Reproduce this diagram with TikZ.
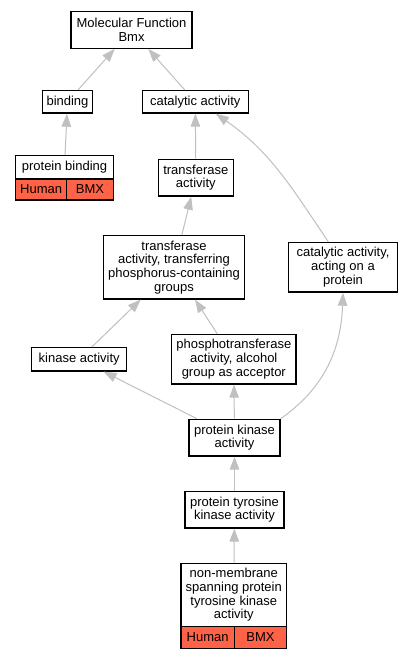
\documentclass[tikz,border=0pt]{standalone}
\usepackage{fontspec}
\setmainfont{Liberation Sans}
\usetikzlibrary{arrows.meta,positioning}
\definecolor{edgegray}{RGB}{192,192,192}
\definecolor{tomato}{RGB}{255,99,71}
\tikzstyle{term} = [rectangle, draw=black, line width=1.3pt, fill=white,
    align=center, inner sep=0pt, font=\fontsize{13}{13.6}\selectfont]
\tikzstyle{cell} = [term, fill=tomato]
\tikzstyle{isa} = [draw=edgegray, line width=1pt,
    -{Triangle[length=13pt,width=9.5pt]}]

\begin{document}
\begin{tikzpicture}[x=1pt, y=-1pt]
  \useasboundingbox [fill=white] (0,0) rectangle (412,659);
  % Place nodes
  \node [term, minimum width=121pt, minimum height=36.5pt] (molfunc)
  at (131.5,30) {Molecular Function\\Bmx};
  \node [term, minimum width=50.5pt, minimum height=22.5pt] (binding)
  at (67.5,101.8) {binding};
  \node [term, minimum width=106pt, minimum height=22.5pt] (catalytic)
  at (195.3,101.8) {catalytic activity};
  \node [term, minimum width=97.6pt, minimum height=23.3pt] (protbind)
  at (64.5,167.3) {protein binding};
  \node [cell, minimum width=51pt, minimum height=21pt] (protbindH)
  at (41.2,189.5) {Human};
  \node [cell, minimum width=46.6pt, minimum height=21pt] (protbindB)
  at (90,189.5) {BMX};
  \node [term, minimum width=75pt, minimum height=36.7pt] (transf)
  at (195.8,177.7) {transferase\\activity};
  \node [term, minimum width=140.6pt, minimum height=63.3pt] (transfphos)
  at (174,267.3) {transferase\\activity, transferring\\phosphorus-containing\\groups};
  \node [term, minimum width=108.6pt, minimum height=49.7pt] (catprot)
  at (343,267.2) {catalytic activity,\\acting on a\\protein};
  \node [term, minimum width=95pt, minimum height=23.3pt] (kinase)
  at (79.2,359.3) {kinase activity};
  \node [term, minimum width=124.3pt, minimum height=49.7pt] (phosalc)
  at (233.8,359.2) {phosphotransferase\\activity, alcohol\\group as acceptor};
  \node [term, minimum width=91pt, minimum height=36.7pt] (protkin)
  at (234.5,437.7) {protein kinase\\activity};
  \node [term, minimum width=99pt, minimum height=36.7pt] (tyrkin)
  at (234.5,509.7) {protein tyrosine\\kinase activity};
  \node [term, minimum width=105.7pt, minimum height=63.3pt] (nonmemb)
  at (233.8,595) {non-membrane\\spanning protein\\tyrosine kinase\\activity};
  \node [cell, minimum width=53.3pt, minimum height=21.6pt] (nonmembH)
  at (207.6,637.5) {Human};
  \node [cell, minimum width=52.4pt, minimum height=21.6pt] (nonmembB)
  at (260.5,637.5) {BMX};
  % Draw edges
  \draw [isa] (binding) -- (molfunc);
  \draw [isa] (catalytic) -- (molfunc);
  \draw [isa] (protbind) -- (binding);
  \draw [isa] (transf) -- (catalytic);
  \draw [isa] (transfphos) -- (transf);
  \draw [isa] (catprot.120) to [out=124,in=-35] (catalytic.-30);
  \draw [isa] (kinase) -- (transfphos);
  \draw [isa] (phosalc) -- (transfphos);
  \draw [isa] (protkin) -- (kinase);
  \draw [isa] (protkin) -- (phosalc);
  \draw [isa] (protkin.north east) to [out=35,in=-92] (catprot.south);
  \draw [isa] (tyrkin) -- (protkin);
  \draw [isa] (nonmemb) -- (tyrkin);
\end{tikzpicture}
\end{document}
